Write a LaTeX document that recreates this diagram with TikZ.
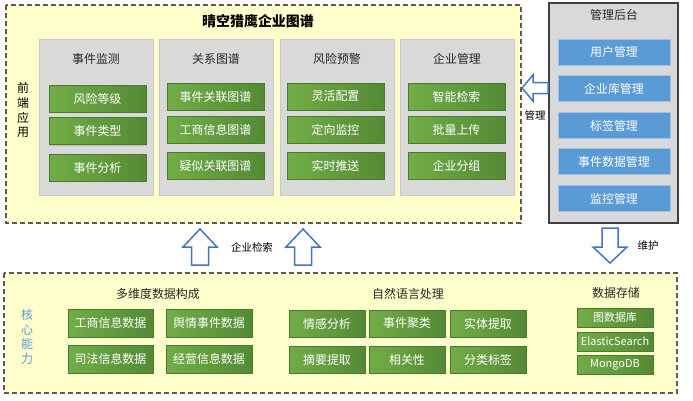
\documentclass[tikz,border=0pt]{standalone}
\usepackage{fontspec}
\setmainfont{Noto Sans CJK SC}
\usetikzlibrary{shadows}
\definecolor{ylw}{HTML}{FFFFCC}
\definecolor{dgray}{HTML}{595959}
\definecolor{pgray}{HTML}{D9D9D9}
\definecolor{pgrayb}{HTML}{C9C9C9}
\definecolor{gA}{HTML}{71AD47}
\definecolor{gB}{HTML}{558A35}
\definecolor{gbord}{HTML}{4A7A2C}
\definecolor{bfill}{HTML}{5B9BD5}
\definecolor{bbord}{HTML}{9DC3E6}
\definecolor{arrblue}{HTML}{4472C4}
\definecolor{corblue}{HTML}{5B9BD5}
\tikzset{
  outer/.style={draw=dgray, line width=1.3bp, dash pattern=on 5bp off 3bp, fill=ylw},
  panel/.style={rectangle, fill=pgray, draw=pgrayb, line width=0.5bp, minimum width=114bp, minimum height=156bp, inner sep=0,
    general shadow={fill=black!12, shadow xshift=1bp, shadow yshift=-1bp}},
  ptitle/.style={font=\fontsize{12}{14}\selectfont, text=black!85, inner sep=0},
  gbtn/.style={rectangle, draw=gbord, line width=0.6bp, left color=gA, right color=gB, text=white,
    font=\fontsize{12}{14}\selectfont, inner sep=0, minimum width=97bp, minimum height=27bp,
    general shadow={fill=black!25, shadow xshift=1bp, shadow yshift=-1bp}},
  bbtn/.style={rectangle, draw=bbord, line width=0.8bp, fill=bfill, text=white,
    font=\fontsize{12}{14}\selectfont, inner sep=0, minimum width=112bp, minimum height=26bp},
  blockarrow/.style={draw=arrblue, line width=1.5bp, fill=white, line join=miter},
  small/.style={font=\fontsize{10.5}{12}\selectfont, inner sep=0},
}
\begin{document}
\begin{tikzpicture}[x=1bp,y=-1bp]
\fill[white] (0,0) rectangle (693,400);
\useasboundingbox (0,0) rectangle (693,400);

% ---------- top front-end box ----------
\draw[outer] (6,5) rectangle (521,223);
\node[font=\bfseries\fontsize{14}{16}\selectfont, inner sep=0] (title) at (258,21) {晴空猎鹰企业图谱};
\node[font=\fontsize{12}{15}\selectfont, align=center, inner sep=0] (fe) at (23,110) {前\\端\\应\\用};

\node[panel] (p1) at (96,117) {};
\node[panel] (p2) at (216,117) {};
\node[panel] (p3) at (337,117) {};
\node[panel] (p4) at (457,117) {};

\node[ptitle] (t1) at (96,59) {事件监测};
\node[ptitle] (t2) at (216,59) {关系图谱};
\node[ptitle] (t3) at (337,59) {风险预警};
\node[ptitle] (t4) at (457,59) {企业管理};

\node[gbtn] (a1) at (97.5,98.5) {风险等级};
\node[gbtn] (a2) at (97.5,131) {事件类型};
\node[gbtn] (a3) at (97.5,167.5) {事件分析};

\node[gbtn] (b1) at (215.5,96.5) {事件关联图谱};
\node[gbtn] (b2) at (215.5,129.5) {工商信息图谱};
\node[gbtn] (b3) at (215.5,165.5) {疑似关联图谱};

\node[gbtn] (c1) at (335.5,96.5) {灵活配置};
\node[gbtn] (c2) at (335.5,129.5) {定向监控};
\node[gbtn] (c3) at (335.5,165.5) {实时推送};

\node[gbtn] (d1) at (456.5,96.5) {智能检索};
\node[gbtn] (d2) at (456.5,129.5) {批量上传};
\node[gbtn] (d3) at (456.5,165.5) {企业分组};

% ---------- admin box ----------
\draw[fill=pgray, draw=black!75, line width=1.1bp] (549,3) rectangle (678,223);
\node[ptitle] (adm) at (614,15) {管理后台};
\node[bbtn] (m1) at (614,52) {用户管理};
\node[bbtn] (m2) at (614,88.5) {企业库管理};
\node[bbtn] (m3) at (614,125.5) {标签管理};
\node[bbtn] (m4) at (614,161.5) {事件数据管理};
\node[bbtn] (m5) at (614,198.5) {监控管理};

% ---------- block arrows ----------
% left arrow (admin -> front end)
\draw[blockarrow] (522,88) -- (533,75) -- (533,82.5) -- (548,82.5) -- (548,93.5) -- (533,93.5) -- (533,101) -- cycle;
\node[small] (lm) at (535,116) {管理};

% up arrows
\draw[blockarrow] (200,229) -- (217,247) -- (208.5,247) -- (208.5,265) -- (191.5,265) -- (191.5,247) -- (183,247) -- cycle;
\draw[blockarrow] (303,229) -- (320,247) -- (311.5,247) -- (311.5,265) -- (294.5,265) -- (294.5,247) -- (286,247) -- cycle;
\node[small] (ls) at (252,247) {企业检索};

% down arrow
\draw[blockarrow] (610,263) -- (627,247) -- (618,247) -- (618,228) -- (602,228) -- (602,247) -- (593,247) -- cycle;
\node[small] (lw) at (648,246) {维护};

% ---------- bottom core box ----------
\draw[outer] (4,273) rectangle (677,393);
\node[font=\fontsize{12}{14.5}\selectfont, align=center, text=corblue, inner sep=0] (core) at (27,337) {核\\心\\能\\力};

\node[ptitle] (s1) at (158,294) {多维度数据构成};
\node[gbtn, minimum width=85bp, minimum height=28bp] (e1) at (110.5,323) {工商信息数据};
\node[gbtn, minimum width=86bp, minimum height=28bp] (e2) at (209,323) {舆情事件数据};
\node[gbtn, minimum width=85bp, minimum height=28bp] (e3) at (110.5,359) {司法信息数据};
\node[gbtn, minimum width=86bp, minimum height=28bp] (e4) at (209,359) {经营信息数据};

\node[ptitle] (s2) at (408,294) {自然语言处理};
\node[gbtn, minimum width=76bp] (n1) at (327,323.5) {情感分析};
\node[gbtn, minimum width=76bp] (n2) at (407,323.5) {事件聚类};
\node[gbtn, minimum width=76bp] (n3) at (488,323.5) {实体提取};
\node[gbtn, minimum width=76bp] (n4) at (327,359.5) {摘要提取};
\node[gbtn, minimum width=76bp] (n5) at (407,359.5) {相关性};
\node[gbtn, minimum width=76bp] (n6) at (488,359.5) {分类标签};

\node[ptitle] (s3) at (616,293) {数据存储};
\node[gbtn, minimum width=76bp, minimum height=19bp, font=\fontsize{11}{13}\selectfont] (k1) at (615,317.5) {图数据库};
\node[gbtn, minimum width=76bp, minimum height=19bp, font=\fontsize{11}{13}\selectfont] (k2) at (615,341.5) {ElasticSearch};
\node[gbtn, minimum width=76bp, minimum height=19bp, font=\fontsize{11}{13}\selectfont] (k3) at (615,364.5) {MongoDB};
\end{tikzpicture}
\end{document}
